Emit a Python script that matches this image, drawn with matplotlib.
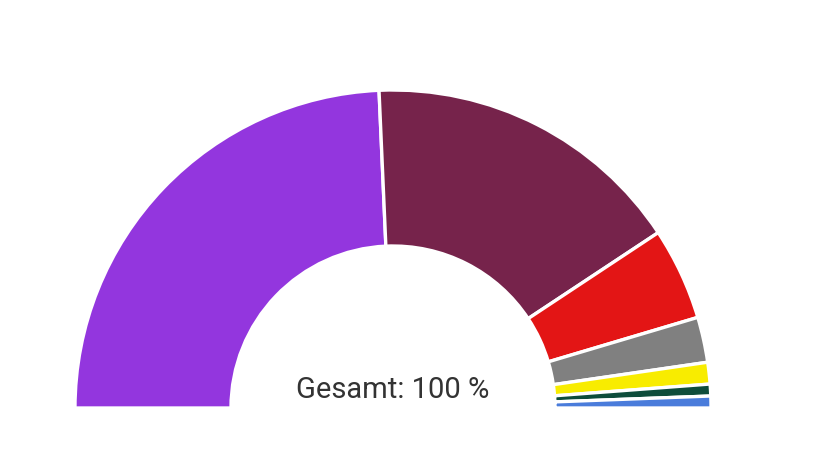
import matplotlib.pyplot as plt
from matplotlib.patches import Wedge

# shares in percent, left to right along the half ring
parties = ["A", "B", "C", "D", "E", "F", "G"]
shares = [48.6, 32.8, 9.4, 4.6, 2.2, 1.2, 1.2]
colors = ["#9336DE", "#76234B", "#E31515", "#808080", "#F8EC00", "#0E4D3B", "#4A7CDB"]
total_label = "Gesamt: 100 %"

W, H = 816, 450
cx, cy = 393, H - 408
r_out, r_in = 318, 162

fig = plt.figure(figsize=(W / 100, H / 100), dpi=100)
ax = fig.add_axes([0, 0, 1, 1])
ax.set_xlim(0, W)
ax.set_ylim(0, H)
ax.axis("off")

start = 180.0
for name, s, c in zip(parties, shares, colors):
    end = start - 180.0 * s / sum(shares)
    ax.add_patch(Wedge((cx, cy), r_out, end, start, width=r_out - r_in,
                       facecolor=c, edgecolor="white", linewidth=2.4))
    start = end

ax.text(cx, H - 390, total_label, ha="center", va="center",
        fontsize=21, family="Roboto", color="#333333")

fig.savefig("out.png", dpi=100)
